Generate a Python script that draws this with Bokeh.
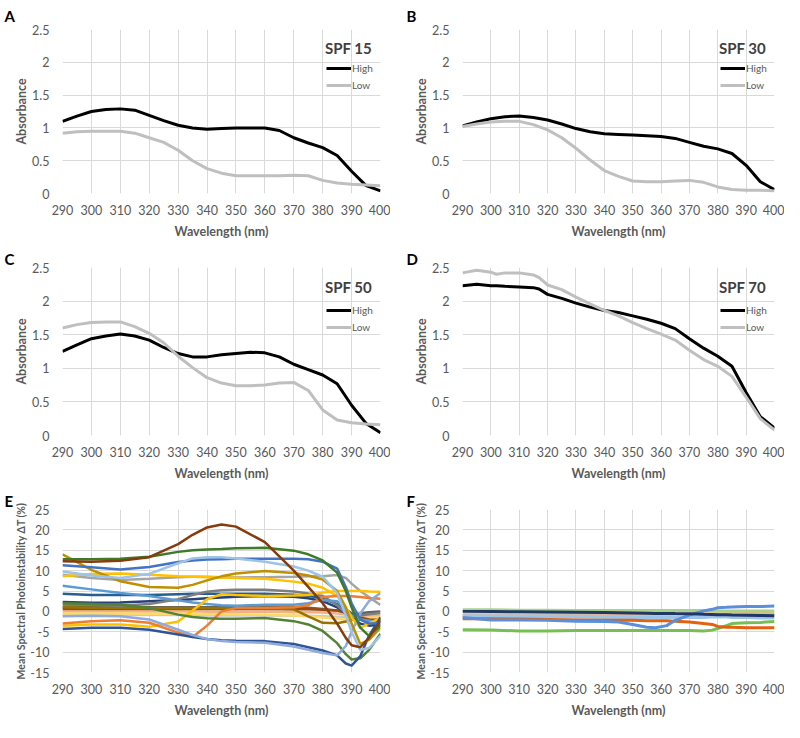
from bokeh.plotting import figure
from bokeh.models import Range1d, FixedTicker, Label, Legend, LegendItem, Title
from bokeh.layouts import column, row
from bokeh.embed import file_html
from bokeh.resources import INLINE

FONT = "Lato"

# ---------------- data ----------------
X_TICKS = [290, 300, 310, 320, 330, 340, 350, 360, 370, 380, 390, 400]
ABS_TICKS = [0, 0.5, 1, 1.5, 2, 2.5]
ABS_TICK_LABELS = ["0", "0.5", "1", "1.5", "2", "2.5"]
DT_TICKS = [-15, -10, -5, 0, 5, 10, 15, 20, 25]
DT_TICK_LABELS = ["-15", "-10", "-5", "0", "5", "10", "15", "20", "25"]

WL = [290, 295, 300, 305, 310, 315, 320, 325, 330, 335, 340, 345, 350, 355,
      360, 365, 370, 375, 380, 385, 390, 395, 400]

A_HIGH = [1.10, 1.18, 1.25, 1.28, 1.29, 1.27, 1.19, 1.11, 1.04, 1.00, 0.98, 0.99,
          1.00, 1.00, 1.00, 0.96, 0.85, 0.77, 0.70, 0.58, 0.34, 0.12, 0.04]
A_LOW = [0.92, 0.94, 0.95, 0.95, 0.95, 0.92, 0.85, 0.78, 0.66, 0.50, 0.38, 0.31,
         0.27, 0.27, 0.27, 0.27, 0.28, 0.27, 0.20, 0.16, 0.14, 0.13, 0.12]
B_HIGH = [1.03, 1.09, 1.14, 1.17, 1.18, 1.16, 1.12, 1.06, 0.99, 0.94, 0.91, 0.90,
          0.89, 0.88, 0.87, 0.84, 0.78, 0.72, 0.68, 0.61, 0.43, 0.18, 0.06]
B_LOW = [1.02, 1.06, 1.09, 1.10, 1.10, 1.05, 0.97, 0.85, 0.69, 0.51, 0.35, 0.26,
         0.19, 0.18, 0.18, 0.19, 0.20, 0.17, 0.10, 0.06, 0.05, 0.05, 0.04]
C_HIGH = [1.25, 1.35, 1.44, 1.48, 1.51, 1.48, 1.42, 1.31, 1.22, 1.17, 1.17, 1.20,
          1.22, 1.24, 1.23, 1.17, 1.06, 0.98, 0.90, 0.77, 0.45, 0.18, 0.04]
C_LOW = [1.60, 1.65, 1.68, 1.69, 1.69, 1.62, 1.52, 1.38, 1.18, 1.01, 0.86, 0.78,
         0.74, 0.74, 0.75, 0.78, 0.79, 0.67, 0.38, 0.23, 0.19, 0.17, 0.16]

WL_D = [290, 295, 300, 302, 305, 310, 315, 317, 320, 325, 330, 335, 340, 345, 350,
        355, 360, 365, 370, 375, 380, 385, 390, 395, 400]
D_HIGH = [2.23, 2.25, 2.23, 2.23, 2.22, 2.21, 2.20, 2.18, 2.10, 2.04, 1.97, 1.91,
          1.86, 1.83, 1.78, 1.73, 1.67, 1.59, 1.44, 1.30, 1.18, 1.03, 0.64, 0.28, 0.11]
D_LOW = [2.42, 2.46, 2.43, 2.40, 2.42, 2.42, 2.39, 2.35, 2.24, 2.17, 2.06, 1.96,
         1.86, 1.78, 1.68, 1.59, 1.51, 1.42, 1.27, 1.13, 1.03, 0.88, 0.57, 0.25, 0.08]

WL_E = [290, 300, 310, 320, 330, 335, 340, 345, 350, 360, 370, 375, 380, 385,
        388, 390, 393, 396, 400]
E_COLORS = ["#c9c9c9", "#f4b183", "#ffd966", "#636363", "#9e480e", "#997300",
            "#264478", "#255e91", "#7f7f7f", "#5b9bd5", "#a5a5a5", "#ffc000",
            "#ffc000", "#ed7d31", "#548235", "#2f5597", "#8faadc", "#bf9000",
            "#4472c4", "#9dc3e6", "#3f7a27", "#843c0c"]
E_VALUES = [
    [-0.8, -0.8, -0.8, -0.9, -0.9, -0.9, -1.0, -1.0, -1.0, -1.0, -1.1, -1.1, -1.2, -1.3, -1.4, -1.5, -1.5, -1.5, -1.5],
    [0.0, 0.0, 0.0, 0.0, 0.0, 0.0, -0.1, -0.1, -0.1, -0.1, -0.2, -0.2, -0.3, -0.5, -0.8, -1.0, -1.0, -1.0, -1.0],
    [-0.5, -0.5, -0.5, -0.6, -0.6, -0.6, -0.7, -0.7, -0.7, -0.8, -1.0, -1.2, -1.5, -1.8, -2.0, -2.0, -1.8, -1.6, -1.5],
    [1.0, 1.0, 1.0, 1.0, 1.0, 1.0, 1.0, 1.0, 1.0, 1.0, 1.0, 0.9, 0.6, 0.2, -0.3, -0.6, -0.5, -0.2, 0.0],
    [0.6, 0.6, 0.6, 0.6, 0.6, 0.6, 0.6, 0.6, 0.6, 0.6, 0.5, 0.5, 0.4, 0.2, -0.3, -0.8, -1.5, -2.0, -2.2],
    [1.0, 0.9, 0.9, 0.8, 0.8, 0.8, 0.8, 0.8, 0.8, 0.8, 0.5, -1.2, -2.8, -2.9, -2.5, -2.0, -2.0, -2.3, -2.5],
    [2.3, 2.1, 2.2, 2.5, 2.8, 3.0, 3.2, 3.4, 3.6, 3.8, 3.6, 3.2, 2.5, 1.0, -0.5, -1.5, -3.0, -3.5, -3.2],
    [4.3, 4.0, 4.0, 4.0, 4.2, 4.3, 4.3, 4.3, 4.3, 4.3, 4.1, 3.8, 3.2, 1.8, 0.5, -0.5, -2.0, -2.5, -1.8],
    [1.6, 1.6, 1.4, 1.8, 3.0, 4.0, 4.8, 5.2, 5.3, 5.3, 4.9, 4.4, 3.8, 1.5, -0.5, -1.5, -1.0, -0.7, -0.4],
    [6.3, 5.4, 4.5, 3.8, 2.7, 2.2, 1.8, 1.5, 1.4, 1.6, 1.6, 2.0, 2.8, 2.5, 0.5, -1.0, -2.0, -2.3, -2.7],
    [9.0, 8.2, 7.7, 8.0, 8.4, 8.5, 8.5, 8.4, 8.3, 8.4, 8.5, 8.6, 8.6, 8.9, 8.2, 6.8, 5.0, 3.5, 1.6],
    [8.6, 9.2, 9.3, 9.0, 8.6, 8.5, 8.4, 8.3, 8.2, 8.0, 7.3, 6.8, 5.8, 3.8, 1.0, -1.5, -4.0, -3.0, -1.5],
    [-3.5, -3.2, -3.2, -3.8, -2.5, 0.2, 3.0, 4.2, 4.0, 3.8, 3.9, 4.0, 4.6, 5.0, 5.0, 5.0, 5.0, 4.9, 4.8],
    [-3.0, -2.4, -2.2, -2.8, -5.2, -6.3, -3.5, 0.0, 0.8, 0.8, 1.0, 1.5, 3.5, 3.8, 3.8, 3.7, 3.5, 3.3, 3.1],
    [2.0, 1.8, 1.6, 0.8, -0.8, -1.4, -1.7, -1.8, -1.8, -1.6, -2.4, -3.2, -4.8, -7.8, -10.5, -11.8, -11.5, -9.5, -5.5],
    [-4.3, -4.0, -4.0, -4.5, -5.7, -6.3, -6.8, -7.1, -7.2, -7.3, -8.0, -8.8, -9.6, -10.8, -12.8, -13.3, -11.0, -6.0, -1.5],
    [-1.2, -1.1, -1.2, -2.0, -4.5, -5.8, -6.8, -7.3, -7.5, -7.7, -8.6, -9.4, -10.2, -10.8, -8.5, -5.0, -0.5, 2.5, 4.5],
    [14.0, 10.2, 7.4, 6.0, 5.8, 6.5, 7.6, 8.6, 9.3, 9.9, 9.4, 8.8, 7.8, 5.0, 1.0, -3.0, -8.0, -7.0, -4.0],
    [11.3, 10.8, 10.3, 10.9, 12.1, 12.5, 12.7, 12.8, 12.9, 12.9, 12.9, 12.8, 12.2, 10.5, 6.0, 2.0, -2.0, -3.0, -3.0],
    [9.8, 8.8, 8.2, 9.2, 11.8, 13.0, 13.3, 13.3, 13.0, 12.2, 11.0, 10.0, 8.5, 4.5, -1.0, -5.0, -9.5, -9.0, -6.0],
    [12.8, 12.8, 12.9, 13.4, 14.6, 15.0, 15.2, 15.3, 15.5, 15.6, 14.9, 14.0, 12.5, 9.5, 5.0, 1.0, -4.0, -6.0, -3.5],
    [12.3, 12.2, 12.4, 13.3, 16.5, 18.8, 20.6, 21.3, 20.8, 17.0, 10.0, 6.0, 2.0, -3.0, -6.5, -8.3, -8.8, -6.5, -2.2],
]

WL_F = [290, 300, 310, 320, 330, 340, 345, 350, 355, 358, 362, 365, 370, 375,
        378, 380, 383, 385, 390, 395, 400]
F_COLORS = ["#f4b183", "#bfbfbf", "#9dc3e6", "#a9d18e", "#77bf55", "#e2620f",
            "#5b8fd9", "#1f3864"]
F_VALUES = [
    [-0.9, -0.9, -0.9, -0.8, -0.8, -0.8, -0.8, -0.7, -0.7, -0.7, -0.7, -0.7, -0.7, -0.6, -0.6, -0.6, -0.6, -0.5, -0.5, -0.5, -0.5],
    [-0.8, -0.9, -1.0, -1.0, -1.1, -1.2, -1.2, -1.3, -1.3, -1.3, -1.4, -1.4, -1.4, -1.3, -1.2, -1.0, -0.9, -0.9, -0.8, -0.8, -0.8],
    [-1.3, -1.4, -1.4, -1.4, -1.4, -1.5, -1.5, -1.5, -1.5, -1.5, -1.5, -1.5, -1.5, -1.5, -1.4, -1.4, -1.4, -1.5, -1.5, -1.6, -1.6],
    [0.4, 0.4, 0.3, 0.3, 0.2, 0.2, 0.2, 0.2, 0.2, 0.2, 0.2, 0.2, 0.2, 0.2, 0.1, 0.1, 0.1, 0.1, 0.1, 0.1, 0.1],
    [-4.5, -4.6, -4.8, -4.8, -4.7, -4.7, -4.7, -4.7, -4.7, -4.7, -4.7, -4.7, -4.7, -4.8, -4.6, -4.2, -3.5, -3.0, -2.8, -2.7, -2.5],
    [-1.8, -1.8, -1.9, -2.0, -2.1, -2.2, -2.2, -2.2, -2.3, -2.3, -2.3, -2.4, -2.6, -3.0, -3.2, -3.7, -3.9, -3.9, -4.0, -4.0, -4.0],
    [-1.5, -2.1, -2.1, -2.2, -2.4, -2.5, -2.6, -3.2, -3.9, -4.0, -3.5, -2.2, -0.9, 0.1, 0.5, 0.9, 1.0, 1.1, 1.2, 1.2, 1.3],
    [0.0, -0.05, -0.1, -0.15, -0.2, -0.3, -0.35, -0.4, -0.45, -0.5, -0.5, -0.55, -0.6, -0.7, -0.75, -0.8, -0.85, -0.9, -0.95, -1.0, -1.05],
]

SPF_NAMES = ["SPF 15", "SPF 30", "SPF 50", "SPF 70"]
PANEL_LETTERS = ["A", "B", "C", "D", "E", "F"]
LEGEND_NAMES = ["High", "Low"]

HIGH_COLOR = "#000000"
LOW_COLOR = "#bfbfbf"
TXT = "#595959"

# ---------------- layout ----------------
ROWS = [  # (height, border_top, border_bottom, letter standoff above frame)
    (243, 25, 50, 9),
    (242, 24, 50, 0),
    (237, 24, 50, 0),
]
COLS = [  # (width, border_left, border_right, letter offset from frame left)
    (390, 62, 10, -58),
    (394, 72, 10, -56),
]


def make_fig(r, c, ymin, ymax, yticks, ylabels, ytitle, ytitle_size):
    h, bt, bb, lstand = ROWS[r]
    w, bl, br, loff = COLS[c]
    fw, fh = w - bl - br, h - bt - bb
    p = figure(width=w, height=h, output_backend="svg", toolbar_location=None,
               x_range=Range1d(290, 400), y_range=Range1d(ymin, ymax),
               min_border_top=bt, min_border_bottom=bb,
               min_border_left=bl, min_border_right=br)
    p.title = Title(text=PANEL_LETTERS[r * 2 + c], align="left", offset=loff,
                    standoff=lstand, text_font=FONT, text_font_style="bold",
                    text_font_size="15px", text_color="#000000")
    p.outline_line_color = None
    p.xaxis.ticker = FixedTicker(ticks=X_TICKS)
    p.yaxis.ticker = FixedTicker(ticks=yticks)
    p.yaxis.major_label_overrides = {t: l for t, l in zip(yticks, ylabels)}
    for ax in (p.xaxis[0], p.yaxis[0]):
        ax.axis_line_color = None
        ax.major_tick_line_color = None
        ax.minor_tick_line_color = None
        ax.major_label_text_font = FONT
        ax.major_label_text_font_size = "12.5px"
        ax.major_label_text_color = TXT
        ax.axis_label_text_font = FONT
        ax.axis_label_text_font_style = "bold"
        ax.axis_label_text_color = TXT
    p.xaxis.axis_label = "Wavelength (nm)"
    p.xaxis.axis_label_text_font_size = "12.5px"
    p.xaxis.major_label_standoff = 5
    p.xaxis.axis_label_standoff = 6
    p.yaxis.axis_label = ytitle
    p.yaxis.axis_label_text_font_size = ytitle_size
    p.yaxis.major_label_standoff = 7
    p.yaxis.axis_label_standoff = 0
    p.xgrid.grid_line_color = "#d9d9d9"
    p.ygrid.grid_line_color = "#d9d9d9"
    return p, fw, fh


def absorbance_panel(idx, wl, high, low):
    r, c = divmod(idx, 2)
    p, fw, fh = make_fig(r, c, 0, 2.5, ABS_TICKS, ABS_TICK_LABELS, "Absorbance", "12.5px")
    rh = p.line(wl, high, line_color=HIGH_COLOR, line_width=3)
    rl = p.line(wl, low, line_color=LOW_COLOR, line_width=3)
    p.add_layout(Label(x=400 - 32 * 110.0 / fw, y=2.5 - 19 * 2.5 / fh,
                       text=SPF_NAMES[idx], text_font=FONT,
                       text_font_style="bold", text_font_size="15px",
                       text_color="#404040", text_align="center",
                       text_baseline="middle"))
    leg = Legend(items=[LegendItem(label=LEGEND_NAMES[0], renderers=[rh]),
                        LegendItem(label=LEGEND_NAMES[1], renderers=[rl])],
                 location=(fw - 54, fh - 67), orientation="vertical",
                 background_fill_alpha=0, border_line_alpha=0,
                 padding=0, margin=0, spacing=3,
                 label_height=14, glyph_height=14, glyph_width=25,
                 label_standoff=1, label_text_font=FONT,
                 label_text_font_size="10px", label_text_color=TXT)
    p.add_layout(leg)
    return p


pA = absorbance_panel(0, WL, A_HIGH, A_LOW)
pB = absorbance_panel(1, WL, B_HIGH, B_LOW)
pC = absorbance_panel(2, WL, C_HIGH, C_LOW)
pD = absorbance_panel(3, WL_D, D_HIGH, D_LOW)

YT = "Mean Spectral Photoinstability \u0394T (%)"
pE, _, _ = make_fig(2, 0, -15, 25, DT_TICKS, DT_TICK_LABELS, YT, "10.5px")
for col, vals in zip(E_COLORS, E_VALUES):
    pE.line(WL_E, vals, line_color=col, line_width=2.5)

pF, _, _ = make_fig(2, 1, -15, 25, DT_TICKS, DT_TICK_LABELS, YT, "10.5px")
for col, vals in zip(F_COLORS, F_VALUES):
    pF.line(WL_F, vals, line_color=col, line_width=3)

layout = column(row(pA, pB), row(pC, pD), row(pE, pF))
open("out.html", "w").write(file_html(layout, INLINE))
